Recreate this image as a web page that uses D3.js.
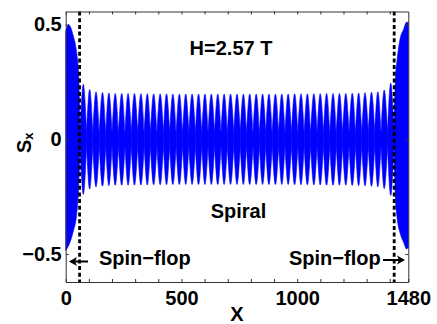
<!DOCTYPE html>
<html>
<head>
<meta charset="utf-8">
<script src="https://cdn.jsdelivr.net/npm/d3@7"></script>
<style>
  html, body { margin: 0; padding: 0; background: #fff; }
  svg { display: block; }
  text { font-family: "Liberation Sans", Arial, Helvetica, sans-serif; font-weight: bold; fill: #000; }
</style>
</head>
<body>
<svg id="chart" width="437" height="324"></svg>
<script>
// Axis ticks and labels
const xTickMarks = [0, 100, 200, 300, 400, 500, 600, 700, 800, 900, 1000, 1100, 1200, 1300, 1400];
const xTickLabels = [0, 500, 1000, 1480];
const yTickLabels = [-0.5, 0, 0.5];

// Phase boundaries (dashed lines)
const boundaryX = [60, 1419];

// Spiral region: nodes of the envelope and the peak |Sx| of each lobe between nodes
const spiralNodes = [62, 90, 117, 145, 173, 200, 228, 256, 283, 311, 339, 366, 394, 422, 449,
  477, 505, 532, 560, 588, 615, 643, 671, 698, 726, 754, 781, 809, 837, 864, 892, 920, 947,
  975, 1003, 1030, 1058, 1086, 1113, 1141, 1169, 1196, 1224, 1252, 1279, 1307, 1335, 1362,
  1390, 1418];
const spiralAmp = [0.24, 0.217, 0.207, 0.204, 0.202, 0.2, 0.2, 0.2, 0.2, 0.199, 0.199, 0.198,
  0.198, 0.198, 0.197, 0.197, 0.197, 0.197, 0.197, 0.197, 0.197, 0.197, 0.197, 0.197, 0.197,
  0.197, 0.197, 0.197, 0.197, 0.197, 0.197, 0.197, 0.197, 0.198, 0.198, 0.198, 0.199, 0.199,
  0.2, 0.2, 0.2, 0.2, 0.201, 0.202, 0.203, 0.205, 0.207, 0.215, 0.245];
const nodeAmp = 0.03;

// Spin-flop domains at both ends: envelope of Sx
const leftLobeX = [0, 12, 33, 47, 56, 62];
const leftLobeTop = [0.47, 0.5, 0.45, 0.38, 0.28, 0.03];
const leftLobeBottom = [-0.485, -0.465, -0.4, -0.33, -0.21, -0.03];
const rightLobeX = [1418, 1424, 1431, 1445, 1460, 1472, 1480];
const rightLobeTop = [0.03, 0.26, 0.34, 0.44, 0.48, 0.51, 0.51];
const rightLobeBottom = [-0.03, -0.25, -0.337, -0.41, -0.45, -0.478, -0.47];

const svg = d3.select("#chart");
const plot = { left: 65.7, right: 408.3, top: 11.5, bottom: 282 };
const fs = 20;

const x = d3.scaleLinear().domain([0, 1480]).range([plot.left, plot.right]);
const y = d3.scaleLinear().domain([-0.622, 0.557]).range([plot.bottom, plot.top]);

const blue = "#0000ff";

const env = d3.area()
  .x(d => x(d.x))
  .y0(d => y(d.lo))
  .y1(d => y(d.hi))
  .curve(d3.curveMonotoneX);

const g = svg.append("g");

// spiral lobes
const beads = spiralAmp.map((a, i) => {
  const n0 = spiralNodes[i], n1 = spiralNodes[i + 1];
  return [
    { x: n0, hi: nodeAmp, lo: -nodeAmp },
    { x: (n0 + n1) / 2, hi: a, lo: -a },
    { x: n1, hi: nodeAmp, lo: -nodeAmp }
  ];
});
g.selectAll("path.bead").data(beads).join("path")
  .attr("class", "bead")
  .attr("d", env)
  .attr("fill", blue)
  .attr("stroke", blue)
  .attr("stroke-width", 0.6);

// spin-flop ends
const lobes = [
  leftLobeX.map((v, i) => ({ x: v, hi: leftLobeTop[i], lo: leftLobeBottom[i] })),
  rightLobeX.map((v, i) => ({ x: v, hi: rightLobeTop[i], lo: rightLobeBottom[i] }))
];
g.selectAll("path.lobe").data(lobes).join("path")
  .attr("class", "lobe")
  .attr("d", env)
  .attr("fill", blue)
  .attr("stroke", blue)
  .attr("stroke-width", 0.6);

// dashed phase boundaries
svg.selectAll("line.boundary").data(boundaryX).join("line")
  .attr("class", "boundary")
  .attr("x1", d => x(d)).attr("x2", d => x(d))
  .attr("y1", plot.top).attr("y2", plot.bottom)
  .attr("stroke", "#000")
  .attr("stroke-width", 2.8)
  .attr("stroke-dasharray", "4,2.7");

// axes: inward ticks on all four sides
const fmtX = d => (xTickLabels.includes(d) ? String(d) : "");
const bottomAxis = d3.axisBottom(x).tickValues(xTickMarks.concat([1480])).tickFormat(fmtX)
  .tickSizeInner(-3).tickSizeOuter(0).tickPadding(8.8);
const topAxis = d3.axisTop(x).tickValues(xTickMarks).tickFormat("")
  .tickSizeInner(-3).tickSizeOuter(0);
const leftAxis = d3.axisLeft(y).tickValues(yTickLabels)
  .tickFormat(d => (d === 0 ? "0" : d3.format(".1f")(d).replace("-", "\u2212")))
  .tickSizeInner(-3).tickSizeOuter(0).tickPadding(4);
const rightAxis = d3.axisRight(y).tickValues(yTickLabels).tickFormat("")
  .tickSizeInner(-3).tickSizeOuter(0);

function styleAxis(sel) {
  sel.select(".domain").attr("stroke", "#333").attr("stroke-width", 1);
  sel.selectAll(".tick line").attr("stroke", "#333").attr("stroke-width", 1);
  sel.selectAll(".tick text").attr("font-size", fs).attr("font-family", null).attr("fill", "#000");
}
svg.append("g").attr("transform", `translate(0,${plot.bottom})`).call(bottomAxis).call(styleAxis);
svg.append("g").attr("transform", `translate(0,${plot.top})`).call(topAxis).call(styleAxis);
svg.append("g").attr("transform", `translate(${plot.left},0)`).call(leftAxis).call(styleAxis);
svg.append("g").attr("transform", `translate(${plot.right},0)`).call(rightAxis).call(styleAxis);

// axis titles
svg.append("text").attr("x", x(740)).attr("y", 321).attr("text-anchor", "middle")
  .attr("font-size", fs).text("X");
const yl = svg.append("text").attr("transform", "translate(31,153) rotate(-90)")
  .attr("font-size", fs);
yl.append("tspan").text("S");
yl.append("tspan").attr("font-size", 13).attr("dy", 2).text("x");

// annotations
svg.append("text").attr("x", 231).attr("y", 55).attr("text-anchor", "middle")
  .attr("font-size", fs).text("H=2.57 T");
svg.append("text").attr("x", 238.5).attr("y", 218).attr("text-anchor", "middle")
  .attr("font-size", fs).text("Spiral");
svg.append("text").attr("x", 99).attr("y", 265).attr("font-size", fs).text("Spin\u2212flop");
svg.append("text").attr("x", 289).attr("y", 265).attr("font-size", fs).text("Spin\u2212flop");

// arrows pointing to the spin-flop domains
function arrow(x1, x2, yy) {
  const dir = Math.sign(x2 - x1);
  svg.append("line").attr("x1", x1).attr("x2", x2 - dir * 2).attr("y1", yy).attr("y2", yy)
    .attr("stroke", "#000").attr("stroke-width", 2);
  svg.append("path")
    .attr("d", `M${x2},${yy} L${x2 - dir * 8},${yy - 4.5} L${x2 - dir * 6},${yy} L${x2 - dir * 8},${yy + 4.5} Z`)
    .attr("fill", "#000");
}
arrow(88, 69, 261.5);
arrow(383, 405, 260);
</script>
</body>
</html>
